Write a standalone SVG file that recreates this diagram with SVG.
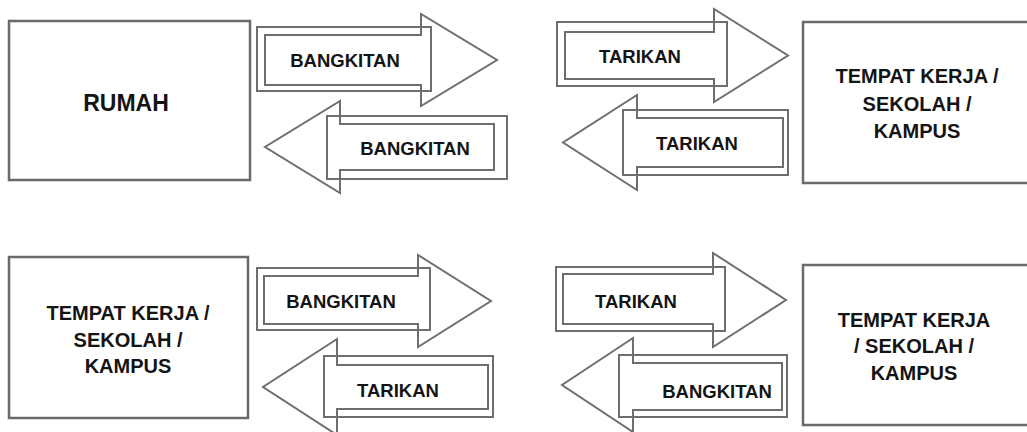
<svg xmlns="http://www.w3.org/2000/svg" width="1027" height="432" viewBox="0 0 1027 432">
<style>
.box{fill:none;stroke:#6a6a6a;stroke-width:2.5}
.ar{fill:none;stroke:#6e6e6e;stroke-width:2}
.lbl{font-family:"Liberation Sans",Arial,sans-serif;font-weight:bold;font-size:18.5px;fill:#141414;text-anchor:middle}
.big{font-family:"Liberation Sans",Arial,sans-serif;font-weight:bold;font-size:20px;fill:#141414;text-anchor:middle}
.rm{font-size:23px}
</style>
<rect width="1027" height="432" fill="#ffffff"/>
<g id="rumah">
<rect class="box" x="9" y="21" width="241" height="159"/>
<text class="big rm" x="126" y="111">RUMAH</text>
</g>
<g id="tujuan-atas">
<rect class="box" x="803" y="22" width="226" height="161"/>
<text class="big" x="917" y="83">TEMPAT KERJA /</text>
<text class="big" x="917" y="111">SEKOLAH /</text>
<text class="big" x="917" y="138">KAMPUS</text>
</g>
<g id="asal-bawah">
<rect class="box" x="9" y="257" width="239" height="161"/>
<text class="big" x="128" y="320">TEMPAT KERJA /</text>
<text class="big" x="128" y="347">SEKOLAH /</text>
<text class="big" x="128" y="373">KAMPUS</text>
</g>
<g id="tujuan-bawah">
<rect class="box" x="803" y="265" width="226" height="160"/>
<text class="big" x="914" y="327">TEMPAT KERJA</text>
<text class="big" x="914" y="353">/ SEKOLAH /</text>
<text class="big" x="914" y="380">KAMPUS</text>
</g>
<g id="connectors">
<g id="a1">
<polygon class="ar" points="265,35 421,35 421,14 497,60 421,106 421,85 265,85"/>
<rect class="ar" x="257" y="27" width="174" height="64"/>
<text class="lbl" x="345" y="67">BANGKITAN</text>
</g>
<g id="a2">
<polygon class="ar" points="494,124 340,124 340,101 265,147 340,193 340,170 494,170"/>
<rect class="ar" x="327" y="116" width="180" height="63"/>
<text class="lbl" x="415" y="155">BANGKITAN</text>
</g>
<g id="a3">
<polygon class="ar" points="565,32 714,32 714,9 788,55.5 714,102 714,79 565,79"/>
<rect class="ar" x="557" y="22" width="170" height="64"/>
<text class="lbl" x="640" y="63">TARIKAN</text>
</g>
<g id="a4">
<polygon class="ar" points="783,118 637,118 637,95 563,142.5 637,190 637,167 783,167"/>
<rect class="ar" x="623" y="110" width="165" height="65"/>
<text class="lbl" x="697" y="150">TARIKAN</text>
</g>
<g id="a5">
<polygon class="ar" points="264,276 418,276 418,255 491,301 418,347 418,324 264,324"/>
<rect class="ar" x="257" y="268" width="173" height="62"/>
<text class="lbl" x="341" y="308">BANGKITAN</text>
</g>
<g id="a6">
<polygon class="ar" points="488,365 337,365 337,339 263,387 337,435 337,409 488,409"/>
<rect class="ar" x="324" y="356" width="169" height="61"/>
<text class="lbl" x="398" y="397">TARIKAN</text>
</g>
<g id="a7">
<polygon class="ar" points="563,274 713,274 713,253 786,300 713,347 713,324 563,324"/>
<rect class="ar" x="556" y="267" width="169" height="64"/>
<text class="lbl" x="636" y="308">TARIKAN</text>
</g>
<g id="a8">
<polygon class="ar" points="782,363 633,363 633,338 562,385 633,432 633,410 782,410"/>
<rect class="ar" x="619" y="355" width="168" height="62"/>
<text class="lbl" x="717" y="398">BANGKITAN</text>
</g>
</g>
</svg>
